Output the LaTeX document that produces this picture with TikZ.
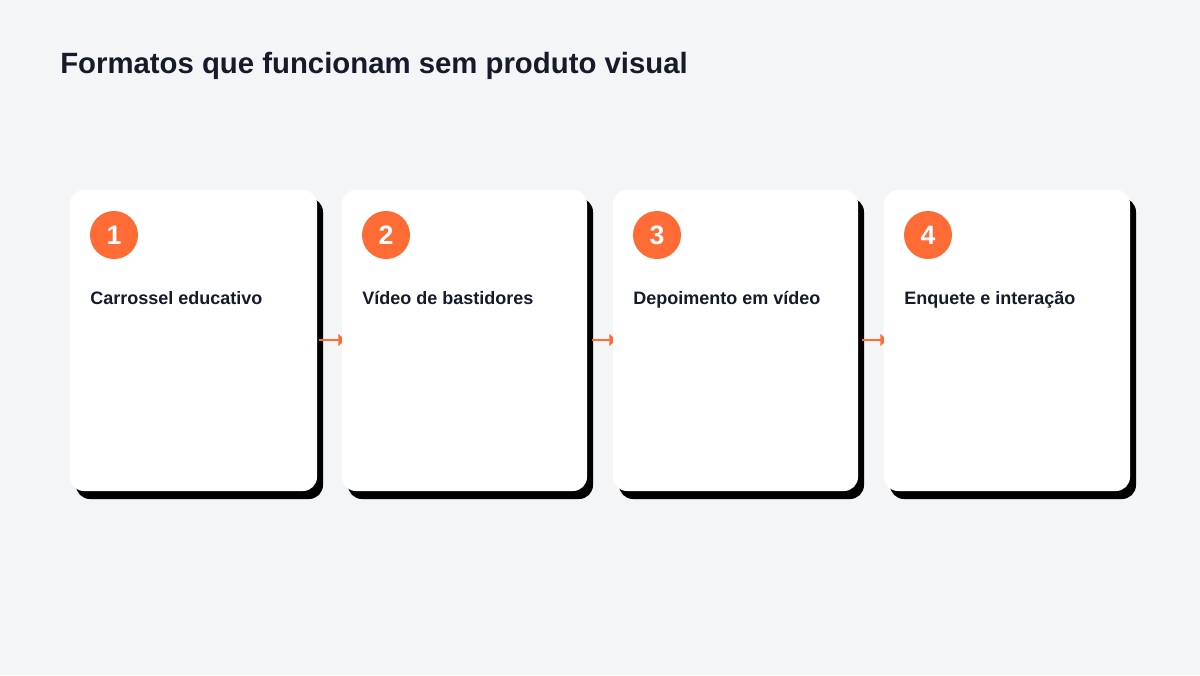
\documentclass[tikz,border=0pt]{standalone}
\usepackage{fontspec}
\setmainfont{Liberation Sans}
\definecolor{bg}{HTML}{F4F5F7}
\definecolor{ink}{HTML}{161B2B}
\definecolor{acc}{HTML}{FF6B35}
\begin{document}
\begin{tikzpicture}[x=0.75pt,y=-0.75pt,
  card/.style={fill=white,rounded corners=10.5pt},
  shad/.style={fill=black,rounded corners=10.5pt},
  num/.style={circle,fill=acc,minimum size=36pt,inner sep=0pt,text=white,font=\bfseries\fontsize{20}{24}\selectfont},
  lab/.style={anchor=base west,text=ink,font=\bfseries\fontsize{13.5}{16}\selectfont,inner sep=0pt},
  arr/.style={draw=acc,line width=2.2pt,-{Triangle[length=5pt,width=9pt]}}]
\usetikzlibrary{arrows.meta}
\fill[bg] (0,0) rectangle (1200,675);
\useasboundingbox (0,0) rectangle (1200,675);
\node[anchor=base west,inner sep=0pt,text=ink,font=\bfseries\fontsize{22}{26}\selectfont] (title) at (60,73) {Formatos que funcionam sem produto visual};
\foreach \i/\x/\w in {1/70/247,2/342/245,3/613/245,4/884/246}{
  \fill[shad] (\x+6,198) rectangle ++(\w,301);
}
\coordinate (a1) at (319,340); \coordinate (b1) at (345,340);
\coordinate (a2) at (592,340); \coordinate (b2) at (616,340);
\coordinate (a3) at (862,340); \coordinate (b3) at (887,340);
\draw[arr] (a1) -- (b1);
\draw[arr] (a2) -- (b2);
\draw[arr] (a3) -- (b3);
\foreach \i/\x/\w/\t in {1/70/247/{Carrossel educativo},2/342/245/{Vídeo de bastidores},3/613/245/{Depoimento em vídeo},4/884/246/{Enquete e interação}}{
  \fill[card] (\x,190) rectangle ++(\w,301);
  \node[num] (n\i) at (\x+44,235) {\i};
  \node[lab] (l\i) at (\x+20,304) {\t};
}
\end{tikzpicture}
\end{document}
